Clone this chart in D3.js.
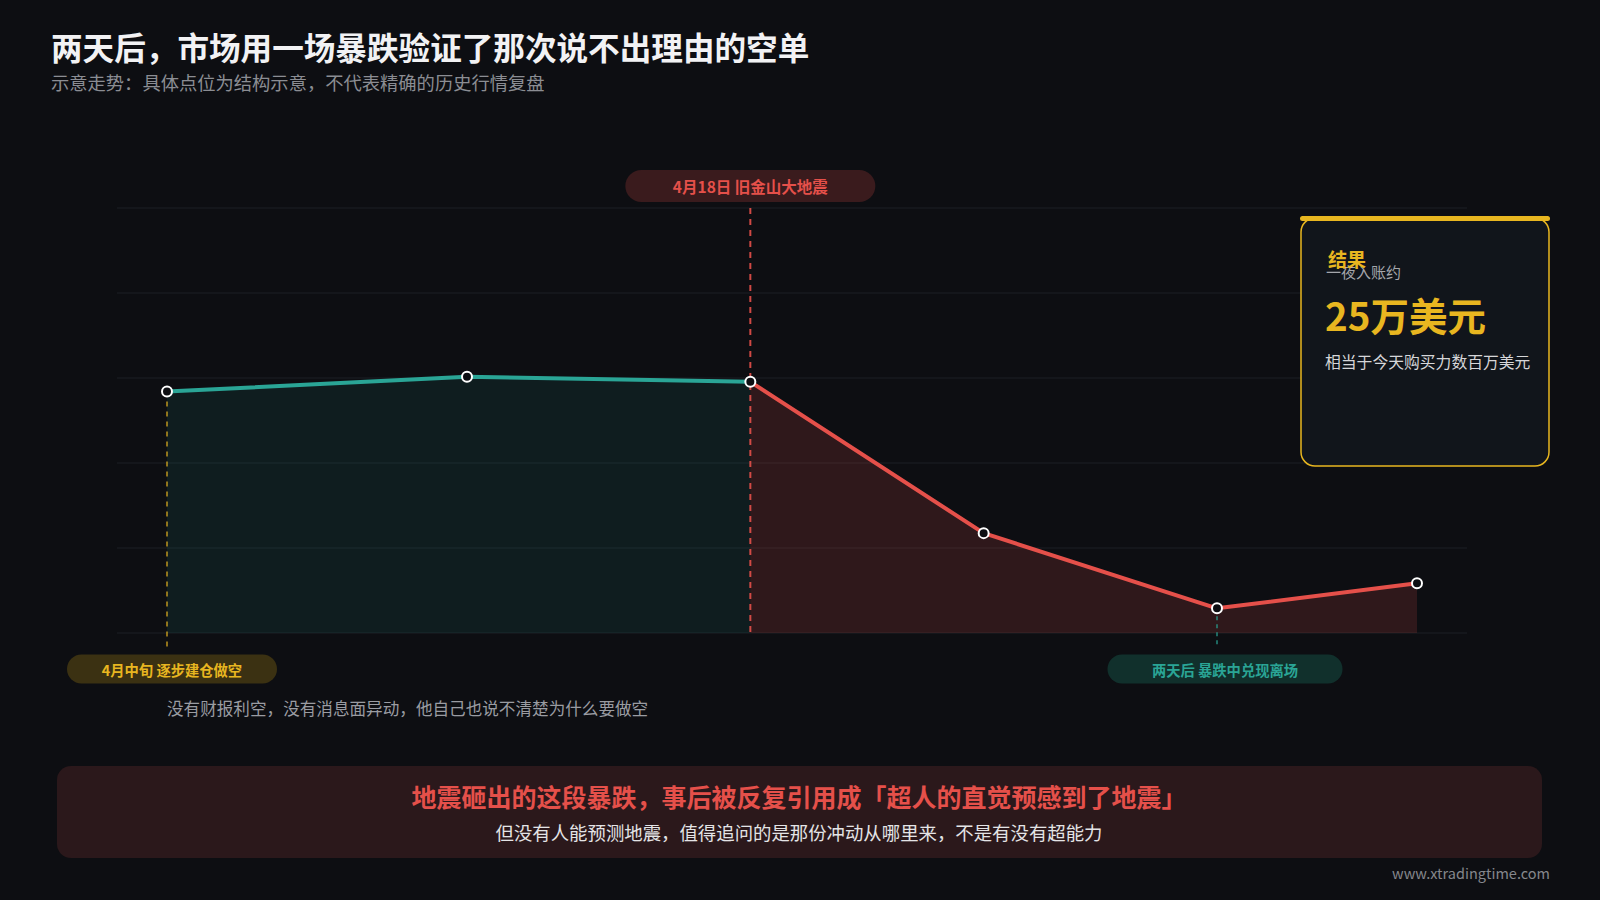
<!DOCTYPE html>
<html>
<head>
<meta charset="utf-8">
<script src="https://cdn.jsdelivr.net/npm/d3@7"></script>
<style>
  html, body { margin: 0; padding: 0; background: #0d0e12; }
  svg { display: block; }
  text { font-family: "Noto Sans CJK SC", "Noto Sans", sans-serif; }
</style>
</head>
<body>
<svg id="chart" width="1600" height="900"></svg>
<script>
// ---- data ----
const dayOffsets = [0, 9, 17.5, 24.5, 31.5, 37.5];   // structural time positions
const prices = [56.8, 60.3, 59.1, 23.5, 5.8, 11.7];  // schematic price level
const phases = ["pre", "pre", "quake", "post", "post", "post"];
const yTicks = [0, 20, 40, 60, 80, 100];

const titleText = "两天后，市场用一场暴跌验证了那次说不出理由的空单";
const subtitleText = "示意走势：具体点位为结构示意，不代表精确的历史行情复盘";
const markerLabels = [
  { idx: 2, text: "4月18日 旧金山大地震", kind: "quake" },
  { idx: 0, text: "4月中旬 逐步建仓做空", kind: "entry" },
  { idx: 4, text: "两天后 暴跌中兑现离场", kind: "exit" }
];
const noteText = "没有财报利空，没有消息面异动，他自己也说不清楚为什么要做空";
const cardTitle = "结果";
const cardSub = "一夜入账约";
const cardValue = "25万美元";
const cardNote = "相当于今天购买力数百万美元";
const bannerMain = "地震砸出的这段暴跌，事后被反复引用成「超人的直觉预感到了地震」";
const bannerSub = "但没有人能预测地震，值得追问的是那份冲动从哪里来，不是有没有超能力";
const watermark = "www.xtradingtime.com";

// ---- colours ----
const C = {
  bg: "#0d0e12", grid: "#1c1e24", teal: "#2aa596", red: "#e5504a", yellow: "#e8b620",
  tealFill: "rgba(42,165,150,0.10)", redFill: "rgba(229,80,74,0.16)",
  white: "#f2f2f4", grey: "#8b8d93", light: "#d6d6d9"
};

const svg = d3.select("#chart");
svg.append("rect").attr("width", 1600).attr("height", 900).attr("fill", C.bg);

// ---- scales ----
const plot = { left: 117, right: 1467, top: 208, bottom: 633 };
const x = d3.scaleLinear().domain([-1.5, 39]).range([plot.left, plot.right]);
const y = d3.scaleLinear().domain([0, 100]).range([plot.bottom, plot.top]);

const pts = dayOffsets.map((d, i) => ({ d, v: prices[i], phase: phases[i] }));
const prePts = pts.slice(0, 3);
const postPts = pts.slice(2);

// grid
svg.append("g").selectAll("line").data(yTicks).join("line")
  .attr("x1", plot.left).attr("x2", plot.right)
  .attr("y1", d => y(d)).attr("y2", d => y(d))
  .attr("stroke", C.grid).attr("stroke-width", 1);

// areas
const area = d3.area().x(p => x(p.d)).y0(y(0)).y1(p => y(p.v));
svg.append("path").datum(prePts).attr("d", area).attr("fill", C.tealFill);
svg.append("path").datum(postPts).attr("d", area).attr("fill", C.redFill);

// vertical dashed guides
svg.append("line")
  .attr("x1", x(dayOffsets[0])).attr("x2", x(dayOffsets[0]))
  .attr("y1", y(prices[0])).attr("y2", y(0) + 15)
  .attr("stroke", C.yellow).attr("stroke-width", 1.5).attr("stroke-dasharray", "5,5").attr("opacity", 0.8);
svg.append("line")
  .attr("x1", x(dayOffsets[2])).attr("x2", x(dayOffsets[2]))
  .attr("y1", y(100)).attr("y2", y(0))
  .attr("stroke", C.red).attr("stroke-width", 2).attr("stroke-dasharray", "6,5").attr("opacity", 0.9);
svg.append("line")
  .attr("x1", x(dayOffsets[4])).attr("x2", x(dayOffsets[4]))
  .attr("y1", y(prices[4])).attr("y2", y(0) + 13)
  .attr("stroke", C.teal).attr("stroke-width", 1.5).attr("stroke-dasharray", "4,4").attr("opacity", 0.8);

// lines
const line = d3.line().x(p => x(p.d)).y(p => y(p.v));
svg.append("path").datum(prePts).attr("d", line)
  .attr("fill", "none").attr("stroke", C.teal).attr("stroke-width", 4).attr("stroke-linejoin", "round");
svg.append("path").datum(postPts).attr("d", line)
  .attr("fill", "none").attr("stroke", C.red).attr("stroke-width", 4).attr("stroke-linejoin", "round");

// points
svg.append("g").selectAll("circle").data(pts).join("circle")
  .attr("cx", p => x(p.d)).attr("cy", p => y(p.v)).attr("r", 5)
  .attr("fill", C.bg).attr("stroke", "#ffffff").attr("stroke-width", 2);

// pill labels
const pillStyle = {
  quake: { fill: "#3a1b1d", color: "#e5504a", w: 250, h: 32, dx: 0, cy: 186, fs: 15.5 },
  entry: { fill: "#3b3112", color: "#e8b620", w: 210, h: 29, dx: 5, cy: 669, fs: 14.3 },
  exit:  { fill: "#11302c", color: "#2aa596", w: 235, h: 29, dx: 8, cy: 669, fs: 14.3 }
};
markerLabels.forEach(m => {
  const s = pillStyle[m.kind];
  const cx = x(dayOffsets[m.idx]) + s.dx;
  const g = svg.append("g");
  g.append("rect").attr("x", cx - s.w / 2).attr("y", s.cy - s.h / 2)
    .attr("width", s.w).attr("height", s.h).attr("rx", s.h / 2).attr("fill", s.fill);
  g.append("text").attr("x", cx).attr("y", s.cy).attr("text-anchor", "middle")
    .attr("dominant-baseline", "central").attr("fill", s.color)
    .attr("font-size", s.fs).attr("font-weight", 600).text(m.text);
});

// note
svg.append("text").attr("x", x(dayOffsets[0])).attr("y", 708)
  .attr("dominant-baseline", "central").attr("fill", "#9a9ca2").attr("font-size", 16.6)
  .text(noteText);

// title
svg.append("text").attr("x", 51).attr("y", 46).attr("dominant-baseline", "central")
  .attr("fill", C.white).attr("font-size", 31.6).attr("font-weight", 700).text(titleText);
svg.append("text").attr("x", 51).attr("y", 81.5).attr("dominant-baseline", "central")
  .attr("fill", C.grey).attr("font-size", 18.3).text(subtitleText);

// result card
const card = svg.append("g");
card.append("rect").attr("x", 1301).attr("y", 218).attr("width", 248).attr("height", 248)
  .attr("rx", 14).attr("fill", "#11151b").attr("stroke", C.yellow).attr("stroke-width", 1.5);
card.append("rect").attr("x", 1300).attr("y", 216).attr("width", 250).attr("height", 5)
  .attr("rx", 2.5).attr("fill", C.yellow);
card.append("text").attr("x", 1326).attr("y", 271).attr("dominant-baseline", "central")
  .attr("fill", "#a4a6ab").attr("font-size", 15).text(cardSub);
card.append("text").attr("x", 1328).attr("y", 258).attr("dominant-baseline", "central")
  .attr("fill", C.yellow).attr("font-size", 19).attr("font-weight", 700).text(cardTitle);
card.append("text").attr("x", 1325).attr("y", 314).attr("dominant-baseline", "central")
  .attr("fill", C.yellow).attr("font-size", 38.5).attr("font-weight", 700).text(cardValue);
card.append("text").attr("x", 1325).attr("y", 361).attr("dominant-baseline", "central")
  .attr("fill", C.light).attr("font-size", 15.8).text(cardNote);

// bottom banner
svg.append("rect").attr("x", 57).attr("y", 766).attr("width", 1485).attr("height", 92)
  .attr("rx", 14).attr("fill", "#2b181b");
svg.append("text").attr("x", 799).attr("y", 796).attr("text-anchor", "middle")
  .attr("dominant-baseline", "central").attr("fill", C.red).attr("font-size", 25)
  .attr("font-weight", 700).text(bannerMain);
svg.append("text").attr("x", 799).attr("y", 832).attr("text-anchor", "middle")
  .attr("dominant-baseline", "central").attr("fill", "#e4e4e6").attr("font-size", 18.4)
  .text(bannerSub);

// watermark
svg.append("text").attr("x", 1550).attr("y", 872).attr("text-anchor", "end")
  .attr("dominant-baseline", "central").attr("fill", "#85878c").attr("font-size", 14.5)
  .attr("font-family", "Inter, 'Noto Sans', sans-serif").text(watermark);
</script>
</body>
</html>
